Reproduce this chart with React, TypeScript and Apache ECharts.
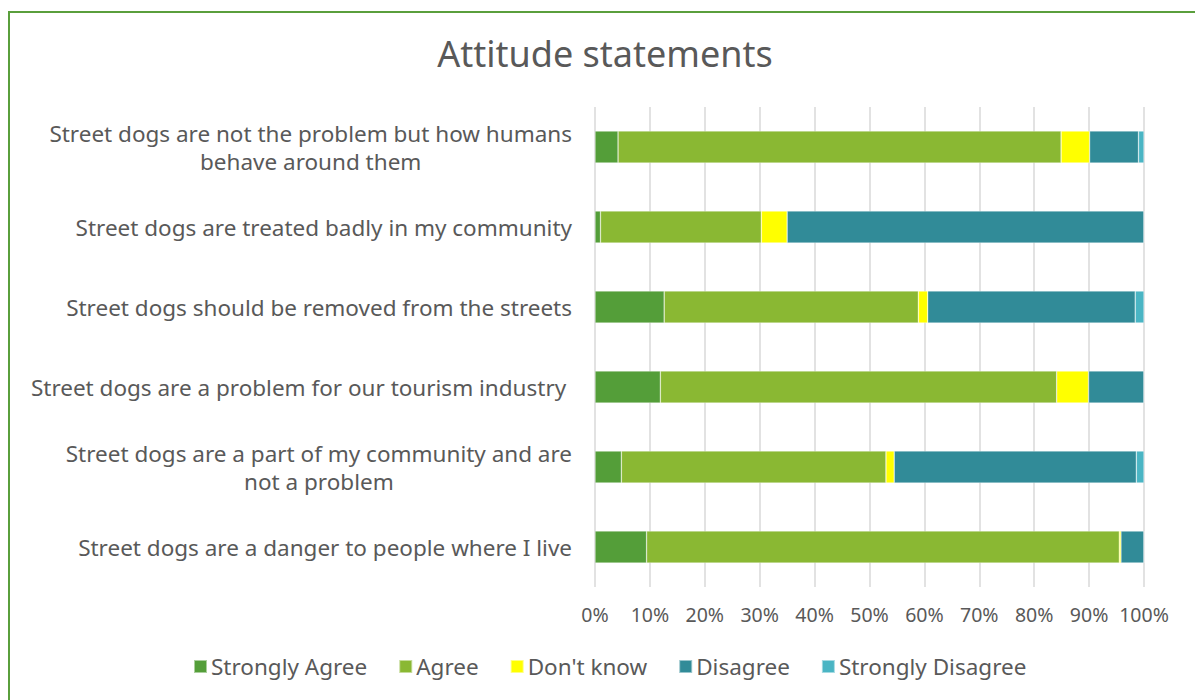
import React, { useEffect, useRef } from "react";
import * as echarts from "echarts";

const categories = [
  "Street dogs are not the problem but how humans\nbehave around them",
  "Street dogs are treated badly in my community",
  "Street dogs should be removed from the streets",
  "Street dogs are a problem for our tourism industry ",
  "Street dogs are a part of my community and are\nnot a problem",
  "Street dogs are a danger to people where I live",
];

const seriesNames = ["Strongly Agree", "Agree", "Don't know", "Disagree", "Strongly Disagree"];
const stronglyAgree = [4.2, 1.0, 12.6, 11.9, 4.8, 9.4];
const agree = [80.7, 29.3, 46.3, 72.2, 48.2, 86.1];
const dontKnow = [5.2, 4.7, 1.7, 5.8, 1.5, 0.3];
const disagree = [8.9, 65.0, 37.8, 10.1, 44.1, 4.2];
const stronglyDisagree = [1.0, 0.0, 1.6, 0.0, 1.4, 0.0];
const xTicks = [0, 10, 20, 30, 40, 50, 60, 70, 80, 90, 100];

const colors = ["#549E39", "#8AB833", "#FFFF00", "#318B98", "#4AB5C4"];
const FONT = "Noto Sans";
const GRAY = "#595959";

export default function App() {
  const ref = useRef<HTMLDivElement>(null);
  useEffect(() => {
    if (!ref.current) return;
    const chart = echarts.init(ref.current, null, { renderer: "svg" });
    const allData = [stronglyAgree, agree, dontKnow, disagree, stronglyDisagree];
    chart.setOption({
      animation: false,
      backgroundColor: "#ffffff",
      color: colors,
      textStyle: { fontFamily: FONT },
      title: {
        text: "Attitude statements",
        left: 600,
        textAlign: "center",
        top: 30,
        textStyle: { fontFamily: FONT, fontSize: 36, fontWeight: "normal", color: GRAY },
      },
      legend: {
        left: 188,
        top: 650,
        itemWidth: 13,
        itemHeight: 13,
        itemGap: 31,
        icon: "rect",
        data: seriesNames,
        textStyle: { fontFamily: FONT, fontSize: 22.5, color: GRAY, padding: [0, 0, 0, -1] },
      },
      grid: { left: 595, right: 51, top: 107, bottom: 113, containLabel: false },
      xAxis: {
        type: "value",
        min: xTicks[0],
        max: xTicks[xTicks.length - 1],
        interval: 10,
        axisLine: { show: false },
        axisTick: { show: false },
        axisLabel: {
          formatter: "{value}%",
          fontFamily: FONT,
          fontSize: 19.5,
          color: GRAY,
          margin: 17,
        },
        splitLine: { show: true, lineStyle: { color: "#D9D9D9", width: 1.5 } },
      },
      yAxis: {
        type: "category",
        inverse: true,
        data: categories,
        axisLine: { show: false },
        axisTick: { show: false },
        axisLabel: {
          margin: 23,
          fontFamily: FONT,
          fontSize: 22.5,
          color: GRAY,
          lineHeight: 28,
          formatter: (v: string) =>
            v
              .split("\n")
              .map((l) => "{c|" + l + "}")
              .join("\n"),
          rich: {
            c: { align: "center", fontFamily: FONT, fontSize: 22.5, color: GRAY, lineHeight: 28 },
          },
        },
      },
      graphic: [
        {
          type: "rect",
          shape: { x: 9, y: 12, width: 1400, height: 900 },
          style: { fill: "none", stroke: "#5A9F3C", lineWidth: 2 },
          silent: true,
          z: 100,
        },
      ],
      series: seriesNames.map((name, i) => ({
        name,
        type: "bar",
        stack: "total",
        barWidth: 32,
        data: allData[i],
        itemStyle: { color: colors[i], borderColor: "rgba(255,255,255,0.5)", borderWidth: 0.6 },
      })),
    });
    return () => chart.dispose();
  }, []);
  return (
    <div
      ref={ref}
      style={{ position: "fixed", left: 0, top: 0, width: 1195, height: 700 }}
    />
  );
}
